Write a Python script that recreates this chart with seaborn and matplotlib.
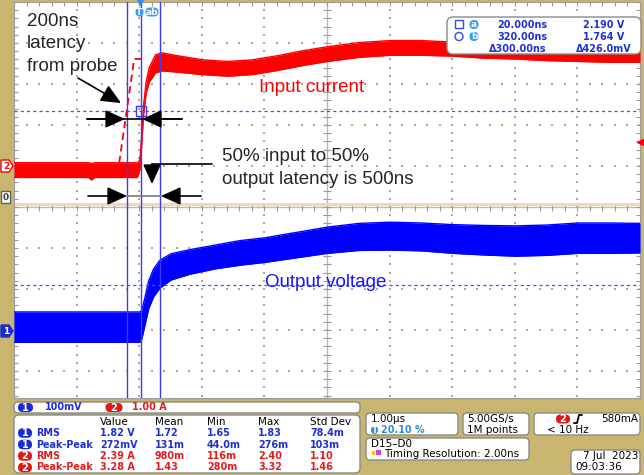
import numpy as np
import pandas as pd
import matplotlib
matplotlib.use("Agg")
import matplotlib.pyplot as plt
from matplotlib.patches import FancyBboxPatch, Polygon
import seaborn as sns

# time in microseconds, trigger (t=0) at 20.1 % of record, 1 us/div
t_input = [-2.01, -0.82, -0.77, -0.72, -0.04, 0.0, 0.03, 0.06, 0.10, 0.15, 0.25, 0.35, 0.6,
           1.0, 1.4, 1.8, 2.2, 2.6, 3.0, 3.5, 4.0, 4.5, 5.0, 5.5, 6.0, 6.5, 7.0, 7.5, 7.99]
i_input = [-0.10, -0.10, -0.14, -0.10, -0.10, 0.02, 0.63, 1.37, 1.90, 2.22, 2.49, 2.54, 2.49,
           2.41, 2.37, 2.41, 2.51, 2.63, 2.73, 2.83, 2.88, 2.88, 2.85, 2.80, 2.78, 2.73, 2.71, 2.68, 2.68]
i_spread = [0.18, 0.18, 0.20, 0.18, 0.18, 0.12, 0.12, 0.12, 0.14, 0.18, 0.22, 0.22, 0.20,
            0.18, 0.18, 0.18, 0.18, 0.18, 0.18, 0.18, 0.18, 0.18, 0.17, 0.17, 0.17, 0.16, 0.16, 0.15, 0.15]

t_output = [-2.01, 0.0, 0.03, 0.08, 0.14, 0.22, 0.32, 0.5, 0.8, 1.2, 1.6, 2.0, 2.5, 3.0,
            3.5, 4.0, 4.5, 5.0, 5.5, 6.0, 6.5, 7.0, 7.5, 7.99]
v_output = [1.662, 1.662, 1.667, 1.699, 1.740, 1.770, 1.791, 1.809, 1.821, 1.833, 1.843, 1.850,
            1.862, 1.874, 1.882, 1.884, 1.882, 1.877, 1.874, 1.872, 1.874, 1.879, 1.879, 1.879]
v_spread = [0.037, 0.037, 0.035, 0.034, 0.034, 0.034, 0.034, 0.032, 0.030, 0.029, 0.030, 0.030,
            0.031, 0.032, 0.033, 0.034, 0.034, 0.035, 0.036, 0.037, 0.037, 0.037, 0.037, 0.036]

# probe-delay corrected input (dashed)
t_probe = [-0.33, -0.09, 0.07]
i_probe = [0.07, 2.61, 2.61]

cursor_t = [0.02, 0.32]
cursor_v = [2.190, 1.764]
probe_marker_t = -0.20
trig_level = 0.58

# channel setup: scale per div, offset, position (div)
ch1_scale, ch1_offset, ch1_pos = 0.1, 1.65, -3.05
ch2_scale, ch2_offset, ch2_pos = 1.0, 0.0, 1.0

meas_cols = ["Value", "Mean", "Min", "Max", "Std Dev"]
meas_rows = [("1", "RMS"), ("1", "Peak-Peak"), ("2", "RMS"), ("2", "Peak-Peak")]
meas_vals = [["1.82 V", "1.72", "1.65", "1.83", "78.4m"],
             ["272mV", "131m", "44.0m", "276m", "103m"],
             ["2.39 A", "980m", "116m", "2.40", "1.10"],
             ["3.28 A", "1.43", "280m", "3.32", "1.46"]]

TAN = "#c8b56f"
RED = "#ff0000"
BLUE = "#0000ff"
CUR = "#3a3aff"
TBLUE = "#1d2fd6"
TRED = "#e31b1b"
GRID = "#a8a8a8"


def ch1_div(v):
    return (np.asarray(v) - ch1_offset) / ch1_scale + ch1_pos


def ch2_div(i):
    return (np.asarray(i) - ch2_offset) / ch2_scale + ch2_pos


sns.set_theme(style="white")
plt.rcParams["font.family"] = ["DejaVu Sans"]

fig = plt.figure(figsize=(6.44, 4.75), dpi=100, facecolor=TAN)
W, H = 644, 475
ax = fig.add_axes([14 / W, 1 - 398 / H, 626 / W, 396 / H])
ax.set_facecolor("white")
x0 = -2.01
ax.set_xlim(x0, x0 + 10)
ax.set_ylim(5 - 396 / 41, 5)
ax.set_xticks([])
ax.set_yticks([])
for s in ax.spines.values():
    s.set_color("#9c9c9c")
    s.set_linewidth(0.8)

# graticule
minor_y = np.arange(-24, 26) * 0.2
minor_x = x0 + np.arange(0, 51) * 0.2
for k in range(1, 10):
    if k == 5:
        continue
    ax.scatter(np.full(len(minor_y), x0 + k), minor_y, s=1.3, marker="s", color=GRID, lw=0, zorder=1)
for m in range(-4, 5):
    if m == 0:
        continue
    ax.scatter(minor_x, np.full(len(minor_x), m), s=1.3, marker="s", color=GRID, lw=0, zorder=1)
xc = x0 + 5
ax.axvline(xc, color="#b8b8b8", lw=1.0, zorder=1)
ax.axhline(0, color="#b8b8b8", lw=1.0, zorder=1)
ax.vlines(minor_x, -0.09, 0.09, color="#9a9a9a", lw=0.8, zorder=1)
ax.hlines(minor_y, xc - 0.06, xc + 0.06, color="#9a9a9a", lw=0.8, zorder=1)
ax.vlines(minor_x, 4.9, 5.0, color="#9a9a9a", lw=0.8, zorder=1)
ax.hlines(minor_y, x0, x0 + 0.06, color="#9a9a9a", lw=0.8, zorder=1)
ax.hlines(minor_y, x0 + 10 - 0.06, x0 + 10, color="#9a9a9a", lw=0.8, zorder=1)

# digital baseline
ax.axhline(0.07, color="#f6d8b0", lw=2.2, zorder=1.5)

# cursors
for ct in cursor_t + [probe_marker_t]:
    ax.axvline(ct, color=CUR, lw=1.0, zorder=4)
for cv in cursor_v:
    ax.axhline(ch1_div(cv), color="#4a4aff", lw=0.9, ls=(0, (2.5, 2.5)), zorder=4)

# traces
df_out = pd.DataFrame({"t": t_output, "lo": ch1_div(np.array(v_output) - np.array(v_spread)),
                       "hi": ch1_div(np.array(v_output) + np.array(v_spread))})
df_in = pd.DataFrame({"t": t_input, "lo": ch2_div(np.array(i_input) - np.array(i_spread)),
                      "hi": ch2_div(np.array(i_input) + np.array(i_spread))})
ax.fill_between(df_out["t"], df_out["lo"], df_out["hi"], color=BLUE, lw=0, zorder=3)
ax.fill_between(df_in["t"], df_in["lo"], df_in["hi"], color=RED, lw=0, zorder=3)
for df, c in [(df_out, BLUE), (df_in, RED)]:
    sns.lineplot(data=df, x="t", y="lo", color=c, lw=1.0, ax=ax, zorder=3)
    sns.lineplot(data=df, x="t", y="hi", color=c, lw=1.0, ax=ax, zorder=3)
sns.lineplot(x=t_probe, y=ch2_div(i_probe), color=RED, lw=1.3, ls=(0, (4, 2.5)), ax=ax, zorder=3)
ax.set_xlabel("")
ax.set_ylabel("")

ax.plot(cursor_t[0], ch1_div(cursor_v[0]), marker="s", ms=6.5, mfc="none", mec=CUR, mew=1.0, zorder=5)
ax.plot(x0 + 10, ch2_div(trig_level), marker="<", ms=5, color=RED, clip_on=False, zorder=5)
ax.plot(0, 5, marker="v", ms=5, color="#2f8fe8", clip_on=False, zorder=5)

# ---- overlay in pixel coordinates ----
ov = fig.add_axes([0, 0, 1, 1], zorder=5)
ov.set_xlim(0, W)
ov.set_ylim(H, 0)
ov.axis("off")
ov.patch.set_visible(False)


def box(x, y, w, h, r=4):
    ov.add_patch(FancyBboxPatch((x, y), w, h, boxstyle=f"round,pad=0,rounding_size={r}",
                                fc="white", ec="#8a8a8a", lw=1.0))


def badge(x, y, s, fc, w=14, h=10, fs=7):
    ov.add_patch(FancyBboxPatch((x - w / 2, y - h / 2), w, h,
                                boxstyle=f"round,pad=0,rounding_size={h / 2}", fc=fc, ec="none"))
    ov.text(x, y + 0.3, s, ha="center", va="center", color="white", fontsize=fs, fontweight="bold")


def ptxt(x, y, s, c="black", ha="left", fs=6.9, fw="bold", **kw):
    ov.text(x, y, s, ha=ha, va="center", color=c, fontsize=fs, fontweight=fw, **kw)


# left markers
ov.add_patch(Polygon([(1, 160), (9, 160), (13, 166), (9, 172), (1, 172)], fc="white", ec=RED, lw=1))
ov.text(6, 166.5, "2", ha="center", va="center", color=RED, fontsize=6.5, fontweight="bold")
ov.add_patch(Polygon([(1, 191), (10, 191), (10, 203), (1, 203)], fc="white", ec="#606060", lw=1))
ov.text(5.5, 197.5, "0", ha="center", va="center", color="#404040", fontsize=6.5, fontweight="bold")
ov.add_patch(Polygon([(1, 325), (9, 325), (13, 331), (9, 337), (1, 337)], fc="#1a2cd0", ec="#1a2cd0", lw=1))
ov.text(6, 331.5, "1", ha="center", va="center", color="white", fontsize=6.5, fontweight="bold")

# trigger / cursor tag at top
badge(139.5, 12, "T", "#3a9cf0", w=8, h=9, fs=6.5)
badge(152, 12, "ab", "#3a9cf0", w=13, h=9, fs=6.5)

# annotations
AF = "Liberation Sans"
ov.text(27, 26, "200ns", fontsize=13.5, family=AF)
ov.text(27, 48.5, "latency", fontsize=13.5, family=AF)
ov.text(27, 71, "from probe", fontsize=13.5, family=AF)
ov.text(222, 161, "50% input to 50%", fontsize=13.5, family=AF)
ov.text(222, 184, "output latency is 500ns", fontsize=13.5, family=AF)
ov.text(259, 92, "Input current", fontsize=13.5, family=AF, color=RED)
ov.text(265, 287, "Output voltage", fontsize=13.5, family=AF, color="#1414ff")

arw = dict(arrowstyle="-|>,head_length=0.55,head_width=0.25", mutation_scale=22,
           color="black", lw=1.2, shrinkA=0, shrinkB=0)
ov.annotate("", xy=(121, 103), xytext=(78, 78), arrowprops=arw)
ov.plot([87, 182], [119, 119], color="black", lw=1.2)
ov.annotate("", xy=(125, 119), xytext=(87, 119), arrowprops=arw)
ov.annotate("", xy=(142, 119), xytext=(182, 119), arrowprops=arw)
ov.plot([127, 161], [196, 196], color="#7a7a7a", lw=1.2)
ov.annotate("", xy=(127, 196), xytext=(88, 196), arrowprops=arw)
ov.annotate("", xy=(161, 196), xytext=(201, 196), arrowprops=arw)
ov.plot([152, 212], [164, 164], color="black", lw=1.2)
ov.annotate("", xy=(152, 184), xytext=(152, 164), arrowprops=arw)

# cursor readout
box(447, 17, 194, 37, r=6)
ov.add_patch(plt.Rectangle((455, 20), 8, 8, fc="none", ec="#3050e0", lw=1))
ov.add_patch(plt.Circle((459, 36.5), 4, fc="none", ec="#3050e0", lw=1))
badge(474, 24.5, "a", "#2a9ef0", w=9, h=9, fs=6.5)
badge(474, 36.5, "b", "#2a9ef0", w=9, h=9, fs=6.5)
ptxt(547, 24.5, "20.000ns", TBLUE, ha="right")
ptxt(547, 36.5, "320.00ns", TBLUE, ha="right")
ptxt(547, 48.5, "\u0394300.00ns", TBLUE, ha="right")
ptxt(624, 24.5, "2.190 V", TBLUE, ha="right")
ptxt(624, 36.5, "1.764 V", TBLUE, ha="right")
ptxt(632, 48.5, "\u0394426.0mV", TBLUE, ha="right")

# bottom panel: channel scales
box(14, 402, 346, 11, r=4)
badge(25.5, 407.5, "1", "#1a2cd0", w=15, h=9)
ptxt(45, 407.5, "100mV", TBLUE)
badge(114, 407.5, "2", "#e01818", w=17, h=9)
ptxt(132, 407.5, "1.00 A", TRED)

# measurement table
box(14, 415, 346, 58, r=5)
col_x = [100, 155, 207, 258, 310]
row_y = [433, 444.5, 456, 467.5]
for cx, name in zip(col_x, meas_cols):
    ptxt(cx, 422, name, fw="normal", fs=7.5)
for (ch, name), vals, ry in zip(meas_rows, meas_vals, row_y):
    fc = "#1a2cd0" if ch == "1" else "#e01818"
    tc = TBLUE if ch == "1" else TRED
    badge(25, ry, ch, fc, w=14, h=9.5)
    ptxt(36, ry, name, tc)
    for cx, v in zip(col_x, vals):
        ptxt(cx, ry, v, tc)

# timebase / acquisition / trigger boxes
box(366, 413, 92, 22)
ptxt(371, 419, "1.00\u00b5s", fw="normal", fs=7.5)
badge(374.5, 430, "T", "#2f8be6", w=7, h=8, fs=6)
ptxt(381, 430, "20.10 %", "#2f8be6")
box(463, 413, 66, 22)
ptxt(467, 419, "5.00GS/s", fw="normal", fs=7.5)
ptxt(467, 430, "1M points", fw="normal", fs=7.5)
box(534, 413, 106, 22)
badge(563, 419, "2", "#e01818", w=14, h=9)
ov.plot([574, 577, 579, 582], [423, 423, 415, 415], color="black", lw=1.3)
ptxt(638, 419, "580mA", ha="right", fw="normal", fs=7.5)
ptxt(547, 430, "< 10 Hz", fw="normal", fs=7.5)
box(366, 438, 163, 22)
ptxt(371, 444, "D15\u2013D0", fw="normal", fs=7.5)
ov.add_patch(plt.Rectangle((372, 451), 3, 4, fc="#e6d000", ec="none"))
ov.add_patch(plt.Rectangle((376, 450), 5, 5, fc="#d040d0", ec="none"))
ptxt(384, 454, "Timing Resolution: 2.00ns", fw="normal", fs=7.5)
box(571, 450, 69, 24)
ptxt(638, 456, "7 Jul  2023", ha="right", fw="normal", fs=7.5)
ptxt(575, 467, "09:03:36", fw="normal", fs=7.5)

fig.savefig("out.png", dpi=100, facecolor=TAN)
